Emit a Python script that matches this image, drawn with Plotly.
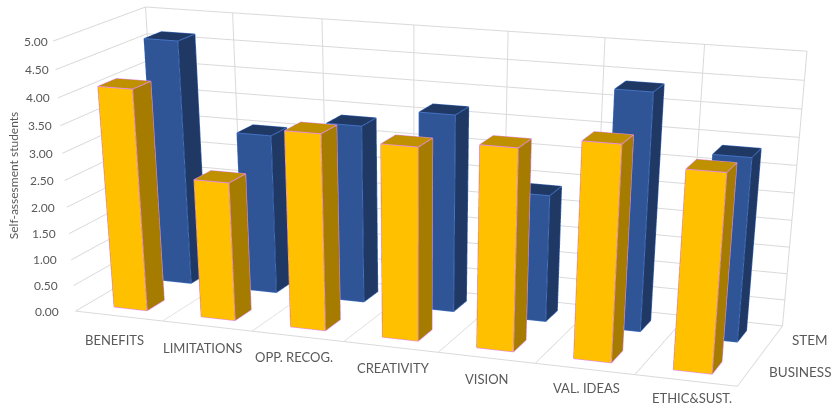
import plotly.graph_objects as go

# Survey results per competence, one row of bars for each student group
categories = ["BENEFITS", "LIMITATIONS", "OPP. RECOG.", "CREATIVITY", "VISION", "VAL. IDEAS", "ETHIC&SUST."]
series_names = ["BUSINESS", "STEM"]
business = [4.15, 2.60, 3.63, 3.54, 3.67, 3.88, 3.55]
stem = [4.66, 3.04, 3.36, 3.70, 2.38, 4.37, 3.37]
z_ticks = [0, 0.5, 1, 1.5, 2, 2.5, 3, 3.5, 4, 4.5, 5]
z_title = "Self-assesment students"

BAR_WIDTH = 0.382  # share of one category cell along x
BAR_DEPTH = 0.40   # share of one series cell along y
ROW_START = {"BUSINESS": 0.267, "STEM": 1.323}
TEXT = "#595959"
GRID = "#D9D9D9"
FONT = "Lato"

# Pixel nudges that keep the category labels clear of the floor edge
CATEGORY_XSHIFT = [-4, -5, -4, 3, 0, 2, 6]
CATEGORY_YSHIFT = [-24, -22, -21, -21, -21, -19, -18]
SERIES_YSHIFT = [-2, 0]

STYLES = {
    "BUSINESS": dict(front="#FFC000", side="#A67C00", top="#BF9000", edge="#E58AE5"),
    "STEM": dict(front="#2F5597", side="#1F3864", top="#203864", edge="#4472C4"),
}

fig = go.Figure()


def add_bar(col, name, height):
    """Add one cuboid plus its outline for a category and series."""
    style = STYLES[name]
    pad = (1 - BAR_WIDTH) / 2
    x0, x1 = col + pad, col + 1 - pad
    y0 = ROW_START[name]
    y1 = y0 + BAR_DEPTH
    xs = [x0, x1, x1, x0, x0, x1, x1, x0]
    ys = [y0, y0, y1, y1, y0, y0, y1, y1]
    zs = [0, 0, 0, 0, height, height, height, height]
    faces = [
        (0, 1, 5, style["front"]), (0, 5, 4, style["front"]),
        (1, 2, 6, style["side"]), (1, 6, 5, style["side"]),
        (4, 5, 6, style["top"]), (4, 6, 7, style["top"]),
        (3, 0, 4, style["side"]), (3, 4, 7, style["side"]),
        (2, 3, 7, style["side"]), (2, 7, 6, style["side"]),
    ]
    fig.add_trace(go.Mesh3d(
        x=xs, y=ys, z=zs,
        i=[f[0] for f in faces], j=[f[1] for f in faces], k=[f[2] for f in faces],
        facecolor=[f[3] for f in faces], flatshading=True,
        lighting=dict(ambient=1, diffuse=0, specular=0, fresnel=0),
        hoverinfo="skip", showscale=False,
    ))
    path = [0, 1, 5, 4, 0, None, 1, 2, 6, 5, None, 4, 7, 6]
    fig.add_trace(go.Scatter3d(
        x=[xs[p] if p is not None else None for p in path],
        y=[ys[p] if p is not None else None for p in path],
        z=[zs[p] if p is not None else None for p in path],
        mode="lines", line=dict(color=style["edge"], width=2),
        hoverinfo="skip", showlegend=False,
    ))


for name, values in zip(series_names, [business, stem]):
    for col, value in enumerate(values):
        add_bar(col, name, value)

tick_font = dict(family=FONT, size=12, color=TEXT)
label_font = dict(family=FONT, size=13, color=TEXT)
notes = []
for tick in z_ticks:
    notes.append(dict(x=0, y=0, z=tick, text=f"{tick:.2f}", showarrow=False,
                      xanchor="right", xshift=-15 + 2.4 * tick, font=tick_font))
for col, name in enumerate(categories):
    notes.append(dict(x=col + 0.5, y=0, z=0, text=name, showarrow=False,
                      xshift=CATEGORY_XSHIFT[col], yshift=CATEGORY_YSHIFT[col], font=label_font))
for row, name in enumerate(series_names):
    notes.append(dict(x=7, y=row + 0.5, z=0, text=name, showarrow=False,
                      xanchor="left", xshift=18, yshift=SERIES_YSHIFT[row],
                      font=dict(family=FONT, size=13.5, color=TEXT)))
notes.append(dict(x=0, y=0, z=2.6, text=z_title, showarrow=False, textangle=-90,
                  xshift=-50, font=tick_font))

hidden = dict(showticklabels=False, title=dict(text=""), showbackground=False,
              showspikes=False, zeroline=False, ticks="")
fig.update_layout(
    width=834, height=1800,
    margin=dict(l=0, r=0, t=0, b=0),
    paper_bgcolor="white",
    showlegend=False,
    font=dict(family=FONT),
    scene=dict(
        domain=dict(x=[0, 1], y=[0, 1]),
        xaxis=dict(range=[0, 7], tickvals=list(range(8)), showgrid=True, gridcolor=GRID,
                   gridwidth=2, showline=True, linecolor=GRID, linewidth=2, **hidden),
        yaxis=dict(range=[0, 2], tickvals=[0, 1, 2], showgrid=False,
                   showline=True, linecolor=GRID, linewidth=2, **hidden),
        zaxis=dict(range=[0, 5], tickvals=z_ticks, showgrid=True, gridcolor=GRID,
                   gridwidth=2, showline=False, **hidden),
        aspectmode="manual",
        aspectratio=dict(x=2.5, y=0.723, z=0.946),
        camera=dict(
            eye=dict(x=2.699, y=-7.441, z=1.897),
            center=dict(x=0.431, y=-1.265, z=-2.159),
            up=dict(x=0, y=0, z=1),
            projection=dict(type="perspective"),
        ),
        annotations=notes,
    ),
)

fig.write_html(
    "out.html",
    config=dict(displayModeBar=False),
    post_script="document.documentElement.style.overflow='hidden';document.body.style.overflow='hidden';",
)
